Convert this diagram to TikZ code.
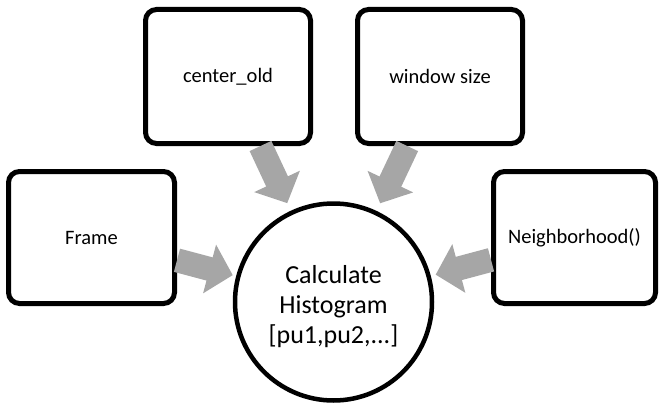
\documentclass[tikz,border=0pt]{standalone}
\usepackage{fontspec}
\setmainfont{Carlito}
\usetikzlibrary{arrows.meta,calc}
\definecolor{arrowgray}{RGB}{166,166,166}
\begin{document}
\begin{tikzpicture}[x=1pt,y=1pt,
  inbox/.style={draw=black, line width=5pt, fill=white, rounded corners=11pt,
    inner sep=0pt, font=\fontsize{20.5}{24}\selectfont},
  calcnode/.style={draw=black, line width=4.5pt, fill=white, circle,
    minimum size=197pt, inner sep=0pt,
    font=\fontsize{26}{30}\selectfont},
  bigarrow/.style={draw=arrowgray, line width=24pt,
    -{Triangle[width=49pt,length=24pt]}}]
\useasboundingbox (0,0) rectangle (659,408);
\node[calcnode] (calc) at (333.5,106) {\raisebox{-5pt}[\height][\depth]{\begin{tabular}{@{}c@{}}Calculate\\Histogram\\{[}pu1,pu2,...{]}\end{tabular}}};
\node[inbox, minimum width=165pt, minimum height=134pt] (co) at (228,331.5) {center\_old};
\node[inbox, minimum width=165pt, minimum height=134pt] (ws) at (440,331.5) {window size};
\node[inbox, minimum width=166pt, minimum height=132pt] (fr) at (91.5,170.5) {Frame};
\node[inbox, minimum width=162pt, minimum height=132pt] (nb) at (574.5,170.5) {Neighborhood()};
\draw[bigarrow, shorten >=8.4pt] (co) -- (calc);
\draw[bigarrow, shorten >=8.4pt] (ws) -- (calc);
\draw[bigarrow, shorten >=3.5pt] (fr) -- (calc);
\draw[bigarrow, shorten >=5pt] (nb) -- (calc);
\end{tikzpicture}
\end{document}
